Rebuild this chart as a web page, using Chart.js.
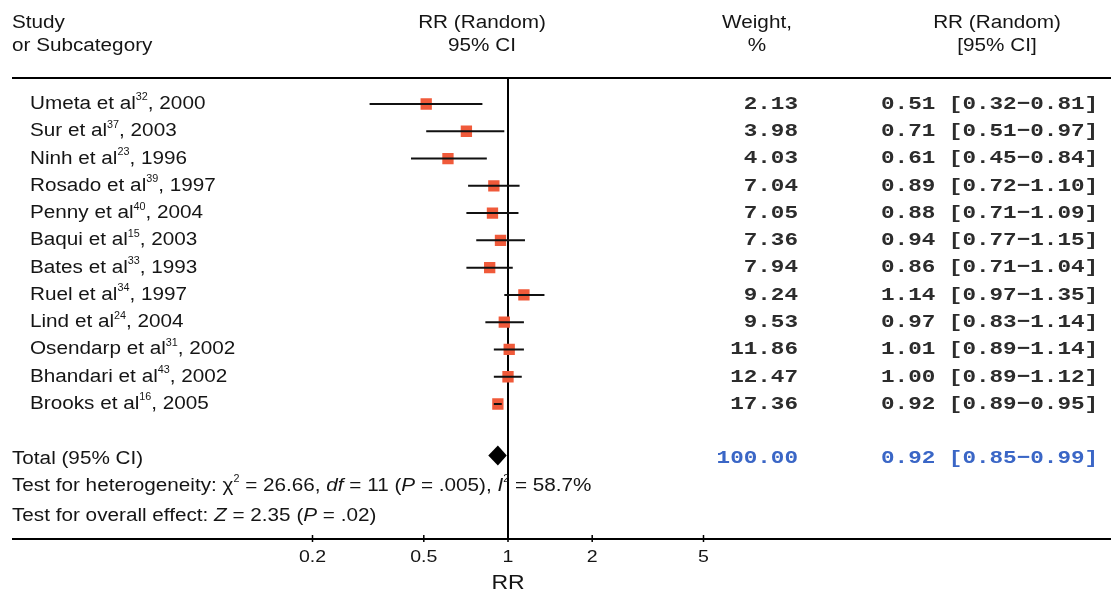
<!DOCTYPE html>
<html>
<head>
<meta charset="utf-8">
<script src="https://cdn.jsdelivr.net/npm/chart.js@4.4.1/dist/chart.umd.min.js"></script>
<style>
  html, body { margin: 0; padding: 0; background: #fff; }
  #c { display: block; }
</style>
</head>
<body>
<canvas id="c" width="1111" height="591"></canvas>
<script>
// study rows
const studies = ['Umeta', 'Sur', 'Ninh', 'Rosado', 'Penny', 'Baqui', 'Bates', 'Ruel', 'Lind', 'Osendarp', 'Bhandari', 'Brooks'];
const refs = ['32', '37', '23', '39', '40', '15', '33', '34', '24', '31', '43', '16'];
const years = [2000, 2003, 1996, 1997, 2004, 2003, 1993, 1997, 2004, 2002, 2002, 2005];
const weights = [2.13, 3.98, 4.03, 7.04, 7.05, 7.36, 7.94, 9.24, 9.53, 11.86, 12.47, 17.36];
const rr = [0.51, 0.71, 0.61, 0.89, 0.88, 0.94, 0.86, 1.14, 0.97, 1.01, 1.00, 0.92];
const lower = [0.32, 0.51, 0.45, 0.72, 0.71, 0.77, 0.71, 0.97, 0.83, 0.89, 0.89, 0.89];
const upper = [0.81, 0.97, 0.84, 1.10, 1.09, 1.15, 1.04, 1.35, 1.14, 1.14, 1.12, 0.95];

// pooled estimate
const totalWeight = 100.00;
const totalRR = 0.92, totalLo = 0.85, totalHi = 0.99;

const xTicks = [0.2, 0.5, 1, 2, 5];

const SANS = '"Liberation Sans", Arial, sans-serif';
const MONO = '"Liberation Mono", "Courier New", monospace';
const SX = 1.15;     // text in the picture is a bit wide
const INK = '#151515';
const NUM = '#2c2c2c';
const BLUE = '#3a66c6';

const ROW_TOTAL = 13, ROW_HET = 14, ROW_EFF = 15.1;

function txt(ctx, s, x, y, font, color, align, sx) {
  sx = sx || SX;
  ctx.save();
  ctx.font = font;
  ctx.fillStyle = color;
  ctx.textBaseline = 'middle';
  ctx.textAlign = 'left';
  const w = ctx.measureText(s).width * sx;
  let x0 = x;
  if (align === 'center') x0 = x - w / 2;
  else if (align === 'right') x0 = x - w;
  ctx.translate(x0, y);
  ctx.scale(sx, 1);
  ctx.fillText(s, 0, 0);
  ctx.restore();
  return w;
}

function rich(ctx, parts, x, y, size, color) {
  parts.forEach(p => {
    const sz = p.sup ? size * 0.6 : size;
    const f = (p.i ? 'italic ' : '') + sz + 'px ' + SANS;
    x += txt(ctx, p.t, x, y + (p.sup ? -size * 0.36 : 0), f, color, 'left', p.sup ? 1.0 : SX);
  });
  return x;
}

const fmt = v => v.toFixed(2);

const forestPlugin = {
  id: 'forest',
  beforeDatasetsDraw(chart) {
    const { ctx, chartArea: a, scales: { x } } = chart;
    ctx.save();
    ctx.strokeStyle = '#000';
    ctx.lineWidth = 2;
    // rules
    ctx.beginPath();
    ctx.moveTo(12, a.top); ctx.lineTo(1111, a.top);
    ctx.moveTo(12, a.bottom); ctx.lineTo(1111, a.bottom);
    // line of no effect
    const x1 = x.getPixelForValue(1);
    ctx.moveTo(x1, a.top); ctx.lineTo(x1, a.bottom);
    ctx.stroke();
    // ticks
    ctx.lineWidth = 1.5;
    ctx.beginPath();
    xTicks.forEach(t => {
      const px = x.getPixelForValue(t);
      ctx.moveTo(px, a.bottom - 4); ctx.lineTo(px, a.bottom + 3);
    });
    ctx.stroke();
    ctx.restore();
  },
  afterDatasetsDraw(chart) {
    const { ctx, scales: { x, y } } = chart;
    ctx.save();
    // confidence intervals
    ctx.strokeStyle = '#111';
    ctx.lineWidth = 2;
    ctx.beginPath();
    rr.forEach((v, i) => {
      const py = y.getPixelForValue(i);
      ctx.moveTo(x.getPixelForValue(lower[i]), py);
      ctx.lineTo(x.getPixelForValue(upper[i]), py);
    });
    ctx.stroke();
    // pooled diamond
    const ty = y.getPixelForValue(ROW_TOTAL) - 3;
    ctx.fillStyle = '#000';
    ctx.beginPath();
    ctx.moveTo(x.getPixelForValue(totalLo), ty);
    ctx.lineTo(x.getPixelForValue(totalRR), ty - 10);
    ctx.lineTo(x.getPixelForValue(totalHi), ty);
    ctx.lineTo(x.getPixelForValue(totalRR), ty + 10);
    ctx.closePath();
    ctx.fill();
    ctx.restore();
  },
  afterDraw(chart) {
    const { ctx, chartArea: a, scales: { x, y } } = chart;
    const f18 = '18px ' + SANS;
    const mono = 'bold 19px ' + MONO;

    // headers
    txt(ctx, 'Study', 12, 23, f18, INK);
    txt(ctx, 'or Subcategory', 12, 46, f18, INK);
    txt(ctx, 'RR (Random)', 482, 23, f18, INK, 'center');
    txt(ctx, '95% CI', 482, 46, f18, INK, 'center');
    txt(ctx, 'Weight,', 757, 23, f18, INK, 'center');
    txt(ctx, '%', 757, 46, f18, INK, 'center');
    txt(ctx, 'RR (Random)', 997, 23, f18, INK, 'center');
    txt(ctx, '[95% CI]', 997, 46, f18, INK, 'center');

    // study rows
    studies.forEach((s, i) => {
      const py = y.getPixelForValue(i);
      rich(ctx, [{ t: s + ' et al' }, { t: refs[i], sup: true }, { t: ', ' + years[i] }], 30, py, 18, INK);
      txt(ctx, fmt(weights[i]), 798, py, mono, NUM, 'right', 1.19);
      txt(ctx, fmt(rr[i]) + ' [' + fmt(lower[i]) + '\u2212' + fmt(upper[i]) + ']', 881, py, mono, NUM, 'left', 1.19);
    });

    // total
    const tyy = y.getPixelForValue(ROW_TOTAL);
    txt(ctx, 'Total (95% CI)', 12, tyy, f18, INK);
    txt(ctx, totalWeight.toFixed(2), 798, tyy, mono, BLUE, 'right', 1.19);
    txt(ctx, fmt(totalRR) + ' [' + fmt(totalLo) + '\u2212' + fmt(totalHi) + ']', 881, tyy, mono, BLUE, 'left', 1.19);

    rich(ctx, [
      { t: 'Test for heterogeneity: ' }, { t: '\u03c7' }, { t: '2', sup: true },
      { t: ' = 26.66, ' }, { t: 'df', i: true }, { t: ' = 11 (' }, { t: 'P', i: true },
      { t: ' = .005), ' }, { t: 'I', i: true }, { t: '2', sup: true }, { t: ' = 58.7%' }
    ], 12, y.getPixelForValue(ROW_HET), 18, INK);
    rich(ctx, [
      { t: 'Test for overall effect: ' }, { t: 'Z', i: true }, { t: ' = 2.35 (' },
      { t: 'P', i: true }, { t: ' = .02)' }
    ], 12, y.getPixelForValue(ROW_EFF), 18, INK);

    // axis labels
    xTicks.forEach(t => {
      txt(ctx, String(t), x.getPixelForValue(t), a.bottom + 18, '17px ' + SANS, INK, 'center');
    });
    txt(ctx, 'RR', x.getPixelForValue(1), a.bottom + 44, '20px ' + SANS, INK, 'center');
  }
};

new Chart(document.getElementById('c'), {
  type: 'scatter',
  data: {
    datasets: [{
      data: rr.map((v, i) => ({ x: v, y: i })),
      pointStyle: 'rect',
      pointRadius: 8,
      backgroundColor: '#f05a3a',
      borderWidth: 0
    }]
  },
  options: {
    responsive: false,
    animation: false,
    devicePixelRatio: 1,
    layout: { padding: { left: 312.5, right: 407.5, top: 78, bottom: 52 } },
    plugins: { legend: { display: false }, tooltip: { enabled: false } },
    scales: {
      x: { type: 'logarithmic', min: 0.2, max: 5, display: false },
      y: { type: 'linear', min: -0.953, max: 15.95, reverse: true, display: false }
    }
  },
  plugins: [forestPlugin]
});
</script>
</body>
</html>
